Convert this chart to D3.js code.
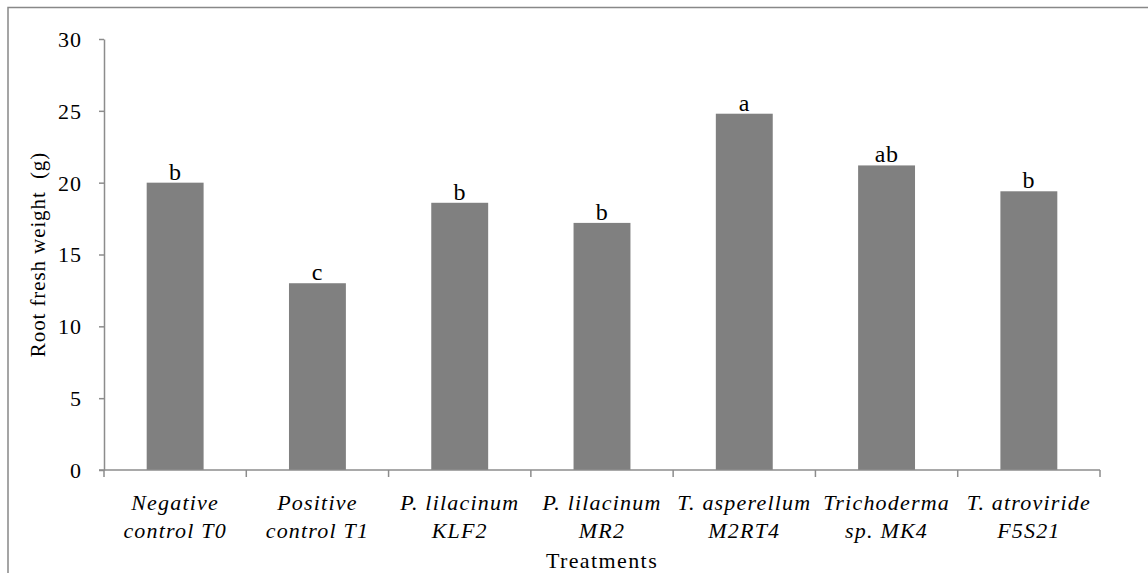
<!DOCTYPE html>
<html><head><meta charset="utf-8">
<script src="https://cdn.jsdelivr.net/npm/d3@7"></script>
<style>
html,body{margin:0;padding:0;background:#fff;}
svg{display:block;}
text{font-family:"Liberation Serif","Times New Roman",Times,serif;fill:#000;}
</style></head>
<body>
<script>
const categoriesLine1 = ["Negative","Positive","P. lilacinum","P. lilacinum","T. asperellum","Trichoderma","T. atroviride"];
const categoriesLine2 = ["control T0","control T1","KLF2","MR2","M2RT4","sp. MK4","F5S21"];
const values = [20.0, 13.0, 18.6, 17.2, 24.8, 21.2, 19.4];
const letters = ["b","c","b","b","a","ab","b"];
const yTicks = [0,5,10,15,20,25,30];

const W = 1148, H = 573;
const m = {left:104, right:48, top:39, bottom:103};
const svg = d3.select("body").append("svg").attr("width",W).attr("height",H);

// outer chart border (top and left visible)
svg.append("path").attr("d",`M8,${H} V7.5 H${W}`).attr("fill","none").attr("stroke","#888").attr("stroke-width",1.5);

const idx = d3.range(values.length);
const x = d3.scaleBand().domain(idx).range([m.left, W-m.right]).paddingInner(0.6).paddingOuter(0.3);
const y = d3.scaleLinear().domain([0,30]).range([H-m.bottom, m.top]);
const step = x.step();

const g = svg.append("g");

// bars
g.selectAll("rect.bar").data(idx).enter().append("rect")
  .attr("x", i=>x(i)).attr("width", x.bandwidth())
  .attr("y", i=>y(values[i])).attr("height", i=>y(0)-y(values[i]))
  .attr("fill","#808080");

// letters above bars
g.selectAll("text.lt").data(idx).enter().append("text")
  .attr("x", i=>x(i)+x.bandwidth()/2).attr("y", i=>y(values[i])-3)
  .attr("text-anchor","middle").attr("font-size",24).attr("letter-spacing","0.5px").text(i=>letters[i]);

// y axis
const yAxis = d3.axisLeft(y).tickValues(yTicks).tickSize(5).tickPadding(17).tickSizeOuter(0);
const ya = svg.append("g").attr("transform",`translate(${m.left},0)`).call(yAxis);
ya.attr("font-family",null).attr("font-size",null);
ya.select(".domain").attr("stroke","#8c8c8c").attr("stroke-width",1.5);
ya.selectAll(".tick line").attr("stroke","#8c8c8c").attr("stroke-width",1.5);
ya.selectAll(".tick text").attr("font-size",22).attr("fill","#000").attr("letter-spacing","1px").attr("dy","0.34em");

// x axis line
const x0 = m.left, x1 = W-m.right, yb = y(0);
svg.append("line").attr("x1",x0-5).attr("x2",x1).attr("y1",yb).attr("y2",yb).attr("stroke","#8c8c8c").attr("stroke-width",1.5);
// boundary ticks
const bounds = idx.map(i=>x(i)-step*0.3).concat([x1]);
svg.selectAll("line.xt").data(bounds).enter().append("line")
  .attr("x1",d=>d).attr("x2",d=>d).attr("y1",yb).attr("y2",yb+7)
  .attr("stroke","#8c8c8c").attr("stroke-width",1.5);

// category labels
const cl = svg.append("g");
idx.forEach(i=>{
  const cx = x(i)+x.bandwidth()/2;
  const t = cl.append("text").attr("text-anchor","middle").attr("font-size",22)
    .attr("font-style","italic").attr("letter-spacing","1.2px");
  t.append("tspan").attr("x",cx).attr("y",510).text(categoriesLine1[i]);
  t.append("tspan").attr("x",cx).attr("y",538).text(categoriesLine2[i]);
});

// axis titles
svg.append("text").attr("x",(x0+x1)/2).attr("y",568).attr("text-anchor","middle")
  .attr("font-size",22).attr("letter-spacing","1.4px").text("Treatments");
svg.append("text").attr("transform",`translate(38,${(y(0)+y(30))/2}) rotate(-90)`)
  .attr("text-anchor","middle").attr("dy","0.35em").attr("font-size",21).attr("letter-spacing","0.9px")
  .style("white-space","pre").text("Root fresh weight  (g)");
</script>
</body></html>
